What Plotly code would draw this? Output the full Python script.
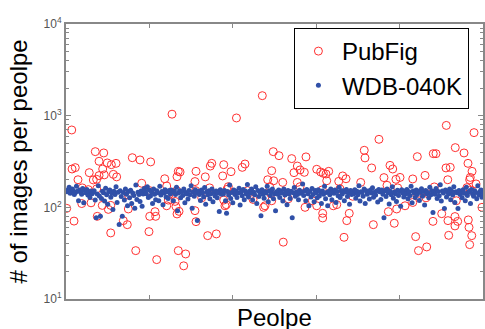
import plotly.graph_objects as go

# PubFig: person position (x) and number of images per person (y)
pub_x = [0.7,5.5,5.8,8.9,7.7,11.5,15.1,15.6,21.4,22.3,
         24.0,26.2,28.1,29.4,29.4,30.0,31.7,31.7,34.8,35.2,
         36.2,36.7,39.6,40.6,42.9,42.9,43.5,45.4,48.0,48.6,
         55.0,58.8,59.8,59.8,63.6,66.9,71.0,72.6,79.6,80.3,
         80.3,81.2,85.4,86.0,87.0,94.7,96.6,96.6,98.1,98.8,
         101.7,104.6,105.5,106.2,106.5,106.5,107.7,107.7,108.4,109.4,
         112.9,114.8,123.7,123.7,124.4,124.7,124.7,130.2,133.6,135.9,
         137.8,138.4,139.8,144.2,150.3,151.3,151.3,152.5,153.8,154.4,
         155.7,158.3,163.5,169.1,171.7,174.3,177.5,179.4,188.3,189.6,
         190.9,193.5,195.4,196.6,197.3,197.3,198.8,199.2,204.3,207.9,
         208.4,213.2,216.5,218.7,221.9,221.9,224.5,224.5,228.6,229.3,
         230.2,236.3,240.5,240.5,244.3,245.8,246.2,246.2,246.8,249.4,
         250.1,252.0,256.4,259.7,261.6,262.8,265.4,266.7,268.6,269.3,
         271.7,275.0,282.7,286.1,286.8,293.2,294.8,300.2,305.0,307.9,
         309.2,310.8,313.4,314.9,316.5,317.2,318.2,320.4,325.2,332.6,
         332.6,335.4,336.7,337.0,338.0,338.1,344.4,345.3,346.0,347.5,
         352.0,352.3,353.3,354.9,360.4,364.5,364.8,366.2,366.4,367.1,
         368.6,373.1,373.1,373.4,374.4,375.7,381.8,384.6,385.6,385.9,
         386.6,387.2,387.2,387.8,387.8,389.2,389.5,391.4,393.3,399.0]
pub_y = [97.5,698,262,271,70.8,200,110,163,156,239,
         112,199,405,159,202,79.8,318,222,105,262,
         392,226,305,95,105,52.6,292,229,302,215,
         71.6,64.7,136,96,348,33.7,329,183,54.3,152,
         79.8,313,89.7,79.8,26.9,205,171,104,120,138,
         1038,116,102,152,216,84.7,247,33.7,90.4,243,
         23.0,31.0,191,92,152,247,69.8,127,215,49.1,
         163,282,302,51.3,220,292,120,104,107,157,
         168,245,944,273,297,152,138,122,1652,100,
         104,200,168,140,251,118,405,195,366,187,
         41.7,124,340,239,282,187,256,168,241,100,
         355,118,260,104,243,155,86,76.6,235,231,
         195,247,104,107,192,159,220,47.1,205,71.6,
         86,132,187,419,346,269,64.7,552,211,174,
         89.7,287,262,67,202,96,163,212,104,204,
         113,47.9,133,357,142,33.7,223,127,37,140,
         70.3,385,167,385,85.3,269,783,200,71.6,49.5,
         273,79.3,62.7,448,118,70.3,392,164,302,72.9,
         60.5,200,39.2,212,155,49.1,247,653,180,100]

# WDB-040K: number of images per person, in person order
wdb_y = [148,155,166,142,150,158,152,138,145,170,150,118,155,147,139,160,112,153,144,157,136,149,128,151,141,
         146,152,120,77,140,172,133,80,125,150,144,117,162,137,108,148,155,129,142,95,150,138,168,113,146,
         65,152,131,80,145,120,158,139,104,149,127,154,110,143,135,98,175,122,146,138,116,151,103,140,160,
         150,141,168,128,155,133,147,110,158,139,121,152,144,118,170,136,149,107,143,156,130,148,125,153,140,
         155,146,118,151,138,166,92,143,152,127,149,135,158,112,145,140,123,153,137,172,98,147,132,156,142,
         72,150,138,119,155,144,130,165,108,148,137,152,124,141,158,115,146,133,151,127,143,90,156,139,147,
         140,153,118,86,149,136,175,125,145,112,155,138,150,128,143,162,106,147,134,157,121,151,140,178,130,
         150,142,158,120,146,137,168,110,153,131,145,81,156,139,126,149,143,170,115,152,135,147,158,124,141,
         92,148,139,155,128,151,143,117,158,136,146,107,153,140,125,150,77,144,165,132,147,138,121,154,142,
         146,180,135,152,118,157,141,104,149,130,160,138,115,153,144,127,156,133,148,110,151,139,170,124,145,
         104,150,137,158,121,146,142,155,113,149,134,166,128,152,140,152,118,147,157,131,144,108,153,138,149,
         141,156,126,150,137,172,117,148,145,132,158,110,152,139,147,123,155,143,164,129,146,136,151,114,157,
         148,122,155,139,77,152,131,158,144,109,150,137,168,126,147,141,116,154,135,149,103,156,143,130,151,
         140,157,124,148,135,170,112,151,143,128,155,138,150,119,146,159,132,149,106,153,141,145,127,166,137,
         152,88,146,139,160,125,149,134,176,117,151,143,97,155,130,147,140,158,121,150,136,168,113,148,144,
         97,153,138,149,127,156,142,118,166,135,146,151,110,157,140,132,152,145,124,172,137,148,155,129,143]
wdb_x = list(range(1, len(wdb_y) + 1))

y_tickvals = [10, 100, 1000, 10000]
y_ticktext = ["10<sup>1</sup>", "10<sup>2</sup>", "10<sup>3</sup>", "10<sup>4</sup>"]
x_tickvals = [80, 160, 240, 320]

FONT = "Liberation Sans, Arial, Helvetica, sans-serif"
AX = "#888888"

fig = go.Figure()
fig.add_trace(go.Scatter(
    x=pub_x, y=pub_y, mode="markers", name="PubFig",
    marker=dict(symbol="circle-open", size=8, color="#ff3030",
                line=dict(color="#ff3030", width=1)),
))
fig.add_trace(go.Scatter(
    x=wdb_x, y=wdb_y, mode="markers", name="WDB-040K",
    marker=dict(symbol="circle", size=5, color="#3050a8"),
))

fig.update_layout(
    width=485, height=329,
    margin=dict(l=66, r=0, t=24, b=30),
    paper_bgcolor="white", plot_bgcolor="white",
    font=dict(family=FONT, color="#000000"),
    showlegend=True,
    legend=dict(
        x=(295 - 66) / 419, y=1 - (28 - 24) / 275,
        xanchor="left", yanchor="top",
        bgcolor="white", bordercolor="#000000", borderwidth=1,
        font=dict(size=24, family=FONT, color="#000000"),
        itemsizing="trace", itemwidth=37,
    ),
    xaxis=dict(
        range=[0, 400], tickvals=x_tickvals, showticklabels=False,
        ticks="inside", ticklen=4, tickcolor=AX, tickwidth=1,
        showline=True, linecolor=AX, linewidth=2, mirror="ticks",
        showgrid=False, zeroline=False,
    ),
    yaxis=dict(
        type="log", range=[1, 4],
        tickvals=y_tickvals, ticktext=y_ticktext,
        tickfont=dict(size=12, color="#555555", family=FONT),
        ticks="inside", ticklen=5, tickcolor=AX, tickwidth=1,
        minor=dict(ticks="inside", ticklen=3, tickcolor=AX, dtick="D1", showgrid=False),
        showline=True, linecolor=AX, linewidth=2, mirror="ticks",
        showgrid=False, zeroline=False,
    ),
    annotations=[
        dict(text="# of images per peolpe", xref="paper", yref="paper",
             x=0, y=0.5, xanchor="center", yanchor="middle", xshift=-48,
             textangle=-90, showarrow=False,
             font=dict(size=24, family=FONT, color="#000000")),
        dict(text="Peolpe", xref="paper", yref="paper",
             x=0.5, y=0, xanchor="center", yanchor="middle", yshift=-18,
             showarrow=False,
             font=dict(size=24, family=FONT, color="#000000")),
    ],
)

fig.write_html("out.html")
